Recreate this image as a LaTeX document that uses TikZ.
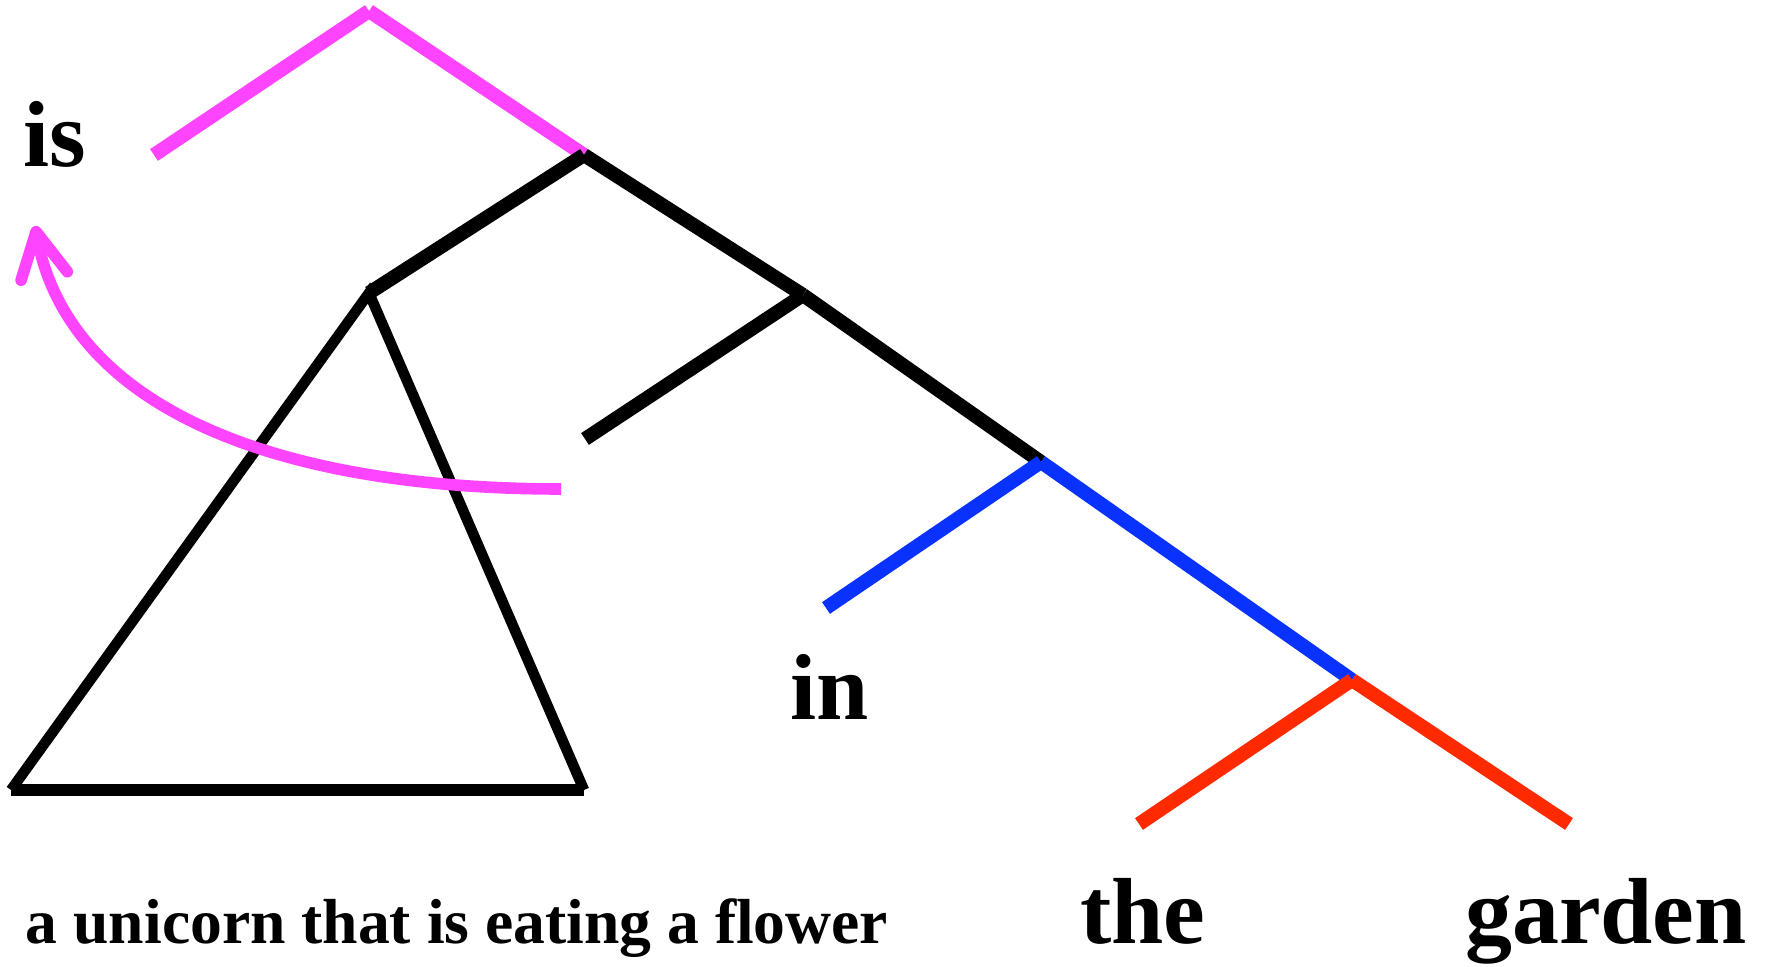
\documentclass[tikz,border=0pt]{standalone}
\usepackage{fontspec}
\setmainfont{Liberation Serif}
\usetikzlibrary{arrows.meta}
\definecolor{movePink}{HTML}{FF44FF}
\definecolor{ppBlue}{HTML}{0A32FF}
\definecolor{npRed}{HTML}{FF2A00}

\begin{document}
\begin{tikzpicture}[
    x=0.1mm, y=0.1mm,
    branch/.style={line width=4pt},
    tri/.style={line width=3pt},
    word/.style={anchor=base, inner sep=0pt,
                 font=\fontsize{26.7}{30}\selectfont\bfseries},
    phrase/.style={anchor=base, inner sep=0pt,
                   font=\fontsize{18.1}{22}\selectfont\bfseries},
    move/.style={-{Straight Barb[length=4.5mm, width=4.7mm, round]},
                 line width=3.3pt, movePink},
]
    \useasboundingbox (0,0) rectangle (1765,-967);
    \coordinate (root) at (369,-11);
    \coordinate (aux) at (154,-155);
    \coordinate (tp) at (584,-155);
    \coordinate (apex) at (369,-293);
    \coordinate (vp) at (803,-295);
    \coordinate (gap) at (585,-439);
    \coordinate (pp) at (1041,-462);
    \coordinate (prep) at (826,-608);
    \coordinate (np) at (1352,-680);
    \coordinate (det) at (1139,-824);
    \coordinate (noun) at (1569,-824);
    \coordinate (tl) at (11,-790);
    \coordinate (tr) at (584,-790);
    \coordinate (src) at (561,-489);
    \coordinate (dst) at (35,-226);

    \node[word] (is) at (55,-167) {is};
    \node[word] (in) at (830,-720) {in};
    \node[word] (the) at (1143,-943) {the};
    \node[word] (garden) at (1606,-943) {garden};
    \node[phrase] (subj) at (457,-943) {a unicorn that is eating a flower};

    \draw[branch, movePink] (aux) -- (root);
    \draw[branch, movePink] (root) -- (tp);
    \draw[branch] (tp) -- (apex);
    \draw[branch] (tp) -- (vp);
    \draw[branch] (vp) -- (gap);
    \draw[branch] (vp) -- (pp);
    \draw[branch, ppBlue] (pp) -- (prep);
    \draw[branch, ppBlue] (pp) -- (np);
    \draw[branch, npRed] (np) -- (det);
    \draw[branch, npRed] (np) -- (noun);
    \draw[tri] (tl) -- (apex) -- (tr);
    \draw[line width=3.6pt] (tl) -- (tr);
    \draw[move] (src) .. controls (270,-489) and (68,-405) .. (dst);
\end{tikzpicture}
\end{document}
